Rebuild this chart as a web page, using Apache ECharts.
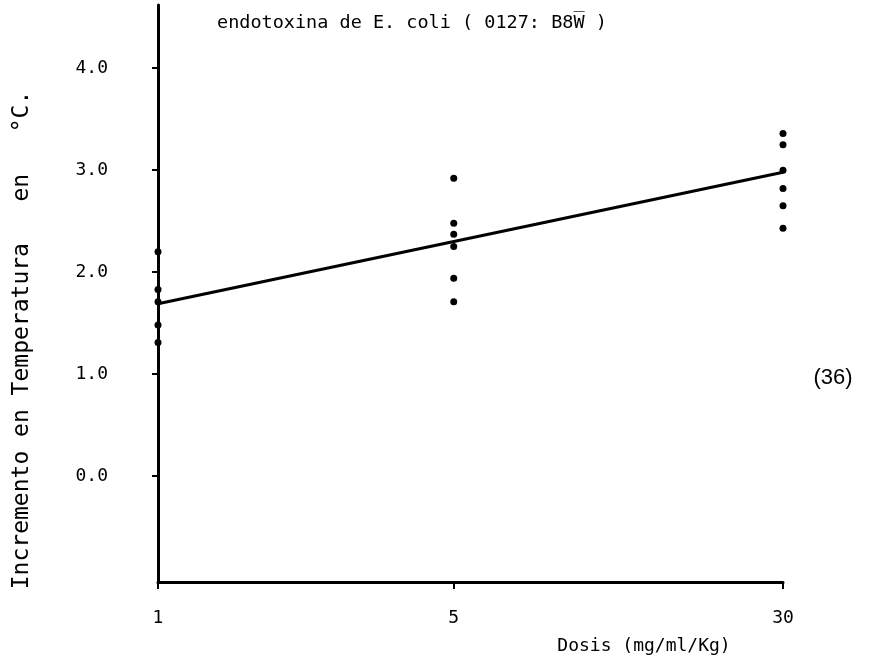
<!DOCTYPE html>
<html>
<head>
<meta charset="utf-8">
<script src="https://cdn.jsdelivr.net/npm/echarts@6/dist/echarts.min.js"></script>
<style>html,body{margin:0;padding:0;background:#fff}#c{width:875px;height:663px}</style>
</head>
<body>
<div id="c"></div>
<script>
// ---- data ----
const titleText = 'endotoxina de E. coli ( 0127: B8W\u0305 )';
const xName = 'Dosis (mg/ml/Kg)';
const yName = 'Incremento en Temperatura   en   \u00B0C.';
const note = '(36)';
const doseTicks = [1, 5, 30];
const yTicks = [0, 1, 2, 3, 4];
const dose1 = [2.20, 1.83, 1.71, 1.48, 1.31];
const dose5 = [2.92, 2.48, 2.37, 2.25, 1.94, 1.71];
const dose30 = [3.36, 3.25, 3.00, 2.82, 2.65, 2.43];
const fitDose = [1, 30];
const fitVals = [1.69, 2.98];

const pts = [];
dose1.forEach(v => pts.push([1, v]));
dose5.forEach(v => pts.push([5, v]));
dose30.forEach(v => pts.push([30, v]));
const fit = fitDose.map((d, i) => [d, fitVals[i]]);

const mono = 'DejaVu Sans Mono';
const chart = echarts.init(document.getElementById('c'), null, {renderer: 'canvas'});
chart.setOption({
  backgroundColor: '#fff',
  animation: false,
  title: {
    text: titleText, left: 212, top: 9,
    textStyle: {fontFamily: mono, fontSize: 18.5, fontWeight: 'normal', color: '#000'}
  },
  grid: {left: 158, right: 92, top: 5, bottom: 81},
  xAxis: {
    type: 'log', min: 1, max: 30, logBase: 10,
    axisLine: {onZero: false, lineStyle: {color: '#000', width: 3}},
    axisTick: {show: true, length: 7, lineStyle: {color: '#000', width: 2}, customValues: doseTicks},
    axisLabel: {customValues: doseTicks, margin: 27, color: '#000', fontFamily: mono, fontSize: 18,
      formatter: v => String(Math.round(v))},
    splitLine: {show: false}, minorTick: {show: false}
  },
  yAxis: {
    type: 'value', min: -1.04, max: 4.62,
    axisLine: {show: true, onZero: false, lineStyle: {color: '#000', width: 3}},
    axisTick: {show: true, length: 6, lineStyle: {color: '#000', width: 2}, customValues: yTicks},
    axisLabel: {customValues: yTicks, margin: 50, color: '#000', fontFamily: mono, fontSize: 18,
      formatter: v => v.toFixed(1)},
    splitLine: {show: false}
  },
  series: [
    {type: 'line', data: fit, symbol: 'none', lineStyle: {color: '#000', width: 3}, z: 3},
    {type: 'scatter', data: pts, symbol: 'circle', symbolSize: 7, itemStyle: {color: '#000', opacity: 1}, z: 4}
  ],
  graphic: [
    {type: 'text', x: 22, y: 340, rotation: Math.PI / 2,
      style: {text: yName, fontFamily: mono, fontSize: 23, fill: '#000', align: 'center', verticalAlign: 'middle'}},
    {type: 'text', x: 644, y: 646,
      style: {text: xName, fontFamily: mono, fontSize: 18, fill: '#000', align: 'center', verticalAlign: 'middle'}},
    {type: 'text', x: 833, y: 378,
      style: {text: note, fontFamily: 'Liberation Sans', fontSize: 22, fill: '#000', align: 'center', verticalAlign: 'middle'}}
  ]
});
</script>
</body>
</html>
